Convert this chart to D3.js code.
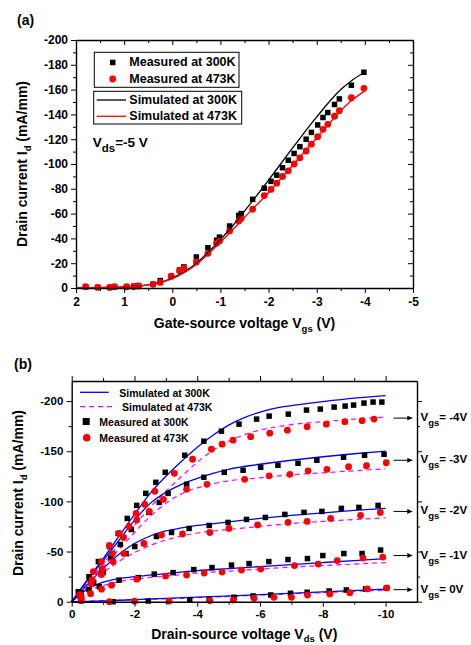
<!DOCTYPE html>
<html>
<head>
<meta charset="utf-8">
<title>Id-Vgs and Id-Vds</title>
<script src="https://d3js.org/d3.v7.min.js"></script>
<style>
body { margin: 0; background: #fff; }
svg text { font-family: Arial, "Liberation Sans", sans-serif; font-weight: bold; fill: #000; }
</style>
</head>
<body>
<script>
// ---------- panel (a): Id - Vgs at Vds = -5 V ----------
var vgsA = [1.8, 1.55, 1.3, 1.2, 0.95, 0.8, 0.7, 0.4, 0.25, 0.02, -0.15, -0.24, -0.5, -0.74, -0.92, -0.98,
  -1.19, -1.38, -1.43, -1.67, -1.91, -2.05, -2.17, -2.29, -2.41, -2.53, -2.65, -2.78, -2.89, -3.02,
  -3.13, -3.23, -3.37, -3.47, -3.72, -3.98];
var meas300A = [-1, -0.5, -0.5, -1, -1, -1.5, -2, -3, -6, -9.5, -14.5, -17, -25, -32.5, -38.5, -41,
  -50, -58.5, -60, -71.5, -80.5, -86, -91, -97, -103, -108.5, -114, -120, -125.5, -131.5,
  -137.5, -141.5, -148, -152.5, -163.5, -174];
var meas473A = [-1, -0.5, -0.5, -1, -1, -1, -1.5, -3, -4.5, -9.5, -14, -16, -21, -28, -36, -38,
  -46, -54, -56, -63.5, -74.5, -79.5, -84.5, -90, -94.5, -100, -105, -110.5, -116, -122,
  -128, -132, -138.5, -143, -153.5, -161];
var sim300A = [[2, 0], [1.5, -0.3], [1, -0.8], [0.5, -2.5], [0.25, -4.5], [0, -8], [-0.25, -13], [-0.5, -20],
  [-0.75, -29], [-1, -39], [-1.25, -50], [-1.5, -62], [-2, -87], [-2.5, -113], [-3, -138], [-3.5, -160],
  [-3.75, -168], [-4, -174]];
var sim473A = [[2, 0], [1, -0.8], [0.5, -2.5], [0, -7.5], [-0.5, -19], [-1, -37], [-1.5, -57], [-2, -77],
  [-2.5, -99], [-3, -121], [-3.5, -143], [-3.75, -152], [-4, -159]];
var xTicksA = [2, 1, 0, -1, -2, -3, -4, -5];
var yTicksA = [0, -20, -40, -60, -80, -100, -120, -140, -160, -180, -200];

// ---------- panel (b): Id - Vds for Vgs = -4 .. 0 V ----------
var vgsLabels = ["-4V", "-3V", "-2V", "-1V", "0V"];
var labelIdB = [-183, -141, -90, -46, -12];

var sim300_4 = [[0, 0], [-0.5, -22], [-1, -43], [-1.5, -65], [-2, -87], [-2.5, -108], [-3, -125], [-3.5, -140],
  [-4, -154], [-4.5, -166], [-5, -176], [-5.5, -183.5], [-6, -189], [-6.5, -193], [-7, -195.5], [-8, -199.5],
  [-9, -203], [-10, -205.5]];
var sim300_3 = [[0, 0], [-0.5, -21], [-1, -41], [-1.5, -61], [-2, -81], [-2.5, -98], [-3, -109], [-3.5, -117],
  [-4, -123], [-4.5, -128], [-5, -132], [-6, -137], [-7, -141], [-8, -144.5], [-9, -147.5], [-10, -150]];
var sim300_2 = [[0, 0], [-0.5, -17], [-1, -33], [-1.5, -47], [-2, -58], [-2.5, -65.5], [-3, -70.5], [-3.5, -73.5],
  [-4, -76], [-5, -79.5], [-6, -83], [-7, -86], [-8, -88.5], [-9, -91], [-10, -93]];
var sim300_1 = [[0, 0], [-0.25, -7], [-0.5, -12.5], [-0.75, -16.5], [-1, -19.5], [-1.5, -23], [-2, -25],
  [-3, -28], [-4, -31], [-5, -33], [-6, -35], [-7, -37], [-8, -39], [-9, -41], [-10, -43]];
var sim300_0 = [[0, 0], [-1, -0.8], [-2, -2], [-4, -4.5], [-6, -7], [-8, -9.7], [-10, -12.5]];

var sim473_4 = [[0, 0], [-0.5, -19], [-1, -38], [-1.5, -57], [-2, -76], [-2.5, -94], [-3, -110], [-3.5, -125],
  [-4, -139], [-4.5, -151], [-5, -160], [-5.5, -166.5], [-6, -171], [-7, -176.5], [-8, -179.5], [-9, -182],
  [-10, -184]];
var sim473_3 = [[0, 0], [-0.5, -18], [-1, -35], [-1.5, -52], [-2, -69], [-2.5, -85], [-3, -98], [-3.5, -107.5],
  [-4, -113.5], [-4.5, -117.5], [-5, -120.5], [-6, -123.5], [-7, -126.5], [-8, -128.5], [-9, -130.5], [-10, -132.5]];
var sim473_2 = [[0, 0], [-0.5, -15], [-1, -29], [-1.5, -40], [-2, -49], [-2.5, -56], [-3, -61.5], [-3.5, -65.5],
  [-4, -68.5], [-5, -72], [-6, -75], [-7, -78], [-8, -80], [-9, -82], [-10, -83.5]];
var sim473_1 = [[0, 0], [-0.25, -6], [-0.5, -10.5], [-1, -16], [-1.5, -20], [-2, -22.5], [-3, -25.5],
  [-4, -28.5], [-5, -30.5], [-6, -32.5], [-7, -34.5], [-8, -36], [-9, -37.5], [-10, -39]];
var sim473_0 = [[0, 0], [-2, -2], [-4, -4], [-6, -6.5], [-8, -9], [-10, -11.5]];

var meas300_4 = [[-0.21, -10], [-0.55, -25], [-0.85, -40], [-1.2, -55], [-1.48, -68], [-1.77, -83], [-2.07, -96],
  [-2.36, -108], [-2.68, -119], [-2.98, -129], [-3.6, -146], [-4.21, -160], [-4.77, -170], [-5.33, -177],
  [-5.89, -182], [-6.29, -185], [-6.9, -187], [-7.48, -191], [-7.92, -192], [-8.36, -194], [-8.71, -195],
  [-8.98, -196], [-9.31, -198], [-9.6, -199], [-9.88, -199]];
var meas300_3 = [[-0.3, -9], [-0.6, -21], [-0.95, -32], [-1.25, -44], [-1.55, -57], [-1.9, -72], [-2.46, -89],
  [-2.79, -99], [-3.07, -108], [-3.66, -117], [-4.21, -124], [-4.86, -129], [-5.46, -131], [-6.02, -134],
  [-6.57, -136], [-7.21, -138], [-7.81, -141], [-8.66, -144], [-9.33, -146], [-9.95, -147]];
var meas300_2 = [[-0.3, -7], [-0.7, -19], [-1.0, -29], [-1.73, -48], [-2.01, -55], [-2.7, -65], [-3.18, -69],
  [-3.74, -73], [-4.38, -76], [-4.98, -79], [-5.57, -82], [-6.17, -84], [-6.79, -87], [-7.4, -89], [-7.97, -90],
  [-8.59, -93], [-9.15, -94], [-9.76, -96]];
var meas300_1 = [[-0.25, -6], [-0.55, -12], [-0.88, -15], [-1.51, -21.5], [-2.12, -24], [-2.63, -27.5],
  [-3.23, -29], [-3.89, -32], [-4.47, -34], [-5.09, -36.5], [-5.65, -38], [-6.28, -40], [-6.89, -42],
  [-7.51, -43], [-8.0, -46], [-8.67, -48], [-9.25, -48], [-9.84, -51.5]];
var meas300_0 = [[-0.3, -1], [-1.32, 0], [-2.44, -0.7], [-3.76, -2], [-4.38, -2.4], [-5.17, -4.4], [-5.78, -5.7],
  [-6.34, -6.7], [-6.97, -8.4], [-7.5, -9.4], [-8.2, -10.7], [-8.75, -11.7], [-9.36, -12.7], [-10.02, -13.4]];

var meas473_4 = [[-0.26, -7], [-0.69, -30], [-0.95, -40], [-1.2, -56], [-1.51, -68], [-1.83, -75], [-2.05, -88],
  [-2.33, -97], [-2.65, -110], [-3.27, -128], [-3.85, -142], [-4.45, -152], [-4.79, -157], [-5.14, -161],
  [-5.7, -164.5], [-6.31, -168], [-6.87, -171], [-7.5, -174.5], [-8.11, -177], [-8.7, -179.5], [-9.25, -180.5],
  [-9.63, -182]];
var meas473_3 = [[-0.3, -6], [-0.65, -22], [-0.98, -33], [-1.3, -48], [-1.65, -64], [-2.07, -81.5], [-2.47, -90],
  [-2.92, -102], [-3.66, -112], [-4.31, -117], [-5.51, -122], [-6.29, -125.5], [-6.95, -127], [-7.53, -130.5],
  [-8.13, -132], [-8.82, -134.5], [-9.39, -135.5], [-10.02, -138.5]];
var meas473_2 = [[-0.3, -3], [-0.62, -18], [-0.95, -27], [-1.32, -40], [-1.66, -48], [-2.3, -58], [-2.86, -66.5],
  [-3.53, -67.5], [-4.4, -69], [-5.01, -73], [-5.92, -76.5], [-6.89, -79], [-7.5, -80], [-8.25, -83],
  [-9.2, -86], [-9.83, -89]];
var meas473_1 = [[-0.3, -3], [-0.6, -8], [-0.95, -12.5], [-1.27, -16.5], [-2.07, -22.5], [-2.99, -25.5],
  [-3.66, -26.5], [-4.22, -28.5], [-4.79, -29.5], [-5.41, -31.5], [-6.02, -32.5], [-7.1, -36], [-7.85, -37.5],
  [-8.46, -41], [-9.28, -43.5], [-9.91, -44.5]];
var meas473_0 = [[-0.3, -1], [-1.2, 0], [-2.0, -0.5], [-3.1, -0.5], [-4.4, -1], [-5.15, -1.7], [-5.81, -3.4],
  [-6.44, -4.4], [-7.0, -4.4], [-7.51, -6.7], [-8.22, -7.7], [-8.86, -9], [-9.42, -12.7], [-10.04, -13.7]];

var xTicksB = [0, -2, -4, -6, -8, -10];
var yTicksB = [0, -50, -100, -150, -200];

var sim300B = [sim300_4, sim300_3, sim300_2, sim300_1, sim300_0];
var sim473B = [sim473_4, sim473_3, sim473_2, sim473_1, sim473_0];
var meas300B = [meas300_4, meas300_3, meas300_2, meas300_1, meas300_0];
var meas473B = [meas473_4, meas473_3, meas473_2, meas473_1, meas473_0];

var svg = d3.select("body").append("svg")
  .attr("width", 471).attr("height", 645);

// draws the 4 sides of a frame, majors + minors; dirs: +1 out, -1 in
function drawAxes(g, x, y, o) {
  var xr = x.range(), yr = y.range();
  var sides = [
    [d3.axisBottom, x, "translate(0," + yr[0] + ")", o.xTicks, o.xMinor, o.dirs[0], true, o.xPad],
    [d3.axisTop, x, "translate(0," + yr[1] + ")", o.xTicks, o.xMinor, o.dirs[1], false, 3],
    [d3.axisLeft, y, "translate(" + xr[0] + ",0)", o.yTicks, o.yMinor, o.dirs[2], true, o.yPad],
    [d3.axisRight, y, "translate(" + xr[1] + ",0)", o.yTicks, o.yMinor, o.dirs[3], false, 3]
  ];
  sides.forEach(function(s) {
    var a = g.append("g").attr("transform", s[2])
      .call(s[0](s[1]).tickValues(s[3]).tickSizeOuter(0).tickSizeInner(5 * s[5])
        .tickPadding(s[7]).tickFormat(s[6] ? function(d) { return String(d); } : ""));
    a.select(".domain").attr("stroke-width", 1.4);
    a.selectAll(".tick line").attr("stroke-width", 1);
    a.selectAll(".tick text").style("font-size", o.fs + "px");
    g.append("g").attr("transform", s[2])
      .call(s[0](s[1]).tickValues(s[4]).tickSizeOuter(0).tickSizeInner(3 * s[5]).tickFormat(""))
      .select(".domain").remove();
  });
}

function squares(g, pts, x, y, size) {
  g.selectAll(null).data(pts).enter().append("rect")
    .attr("x", function(d) { return x(d[0]) - size / 2; })
    .attr("y", function(d) { return y(d[1]) - size / 2; })
    .attr("width", size).attr("height", size)
    .attr("fill", "#000");
}
function circles(g, pts, x, y, r) {
  g.selectAll(null).data(pts).enter().append("circle")
    .attr("cx", function(d) { return x(d[0]); })
    .attr("cy", function(d) { return y(d[1]); })
    .attr("r", r)
    .attr("fill", "#ff0000");
}

// ================= panel (a) =================
var xA = d3.scaleLinear().domain([2, -5]).range([76, 413]);
var yA = d3.scaleLinear().domain([0, -200]).range([288, 40]);
var ga = svg.append("g");

var ptsA300 = vgsA.map(function(v, i) { return [v, meas300A[i]]; });
var ptsA473 = vgsA.map(function(v, i) { return [v, meas473A[i]]; });
squares(ga, ptsA300, xA, yA, 5.5);
circles(ga, ptsA473, xA, yA, 3.4);

var lineA = d3.line().x(function(d) { return xA(d[0]); }).y(function(d) { return yA(d[1]); })
  .curve(d3.curveMonotoneX);
ga.append("path").attr("d", lineA(sim300A)).attr("fill", "none").attr("stroke", "#000").attr("stroke-width", 1.3);
ga.append("path").attr("d", lineA(sim473A)).attr("fill", "none").attr("stroke", "#ff0000").attr("stroke-width", 1.3);

drawAxes(ga, xA, yA, {
  xTicks: xTicksA, xMinor: d3.range(1.5, -5, -1), yTicks: yTicksA, yMinor: d3.range(-10, -200, -20),
  dirs: [1, -1, 1, -1], xPad: 4, yPad: 3, fs: 12
});

// legend (a)
ga.append("rect").attr("x", 94.3).attr("y", 52.3).attr("width", 144.7).attr("height", 35)
  .attr("fill", "none").attr("stroke", "#000").attr("stroke-width", 1);
ga.append("rect").attr("x", 93.7).attr("y", 91.3).attr("width", 148).attr("height", 32.7)
  .attr("fill", "none").attr("stroke", "#000").attr("stroke-width", 1);
ga.append("rect").attr("x", 110).attr("y", 59.7).attr("width", 5.5).attr("height", 5.5).attr("fill", "#000");
ga.append("circle").attr("cx", 112.7).attr("cy", 79).attr("r", 3.4).attr("fill", "#ff0000");
ga.append("line").attr("x1", 96.7).attr("x2", 126).attr("y1", 100).attr("y2", 100).attr("stroke", "#000").attr("stroke-width", 1.3);
ga.append("line").attr("x1", 96.7).attr("x2", 126).attr("y1", 116.3).attr("y2", 116.3).attr("stroke", "#ff0000").attr("stroke-width", 1.3);
[["Measured at 300K", 66.3], ["Measured at 473K", 82.7], ["Simulated at 300K", 104], ["Simulated at 473K", 120.3]]
  .forEach(function(t) {
    ga.append("text").attr("x", 129.3).attr("y", t[1]).style("font-size", "12.5px").text(t[0]);
  });

var vds = ga.append("text").attr("x", 92.7).attr("y", 146.7).style("font-size", "13.5px");
vds.append("tspan").text("V");
vds.append("tspan").attr("dy", 5).style("font-size", "11.5px").text("ds");
vds.append("tspan").attr("dy", -5).text("=-5 V");

ga.append("text").attr("x", 17).attr("y", 25).style("font-size", "14px").text("(a)");

var xtA = ga.append("text").attr("x", 244.5).attr("y", 328).attr("text-anchor", "middle").style("font-size", "14px");
xtA.append("tspan").text("Gate-source voltage V");
xtA.append("tspan").attr("dy", 4).style("font-size", "9.5px").text("gs");
xtA.append("tspan").attr("dy", -4).text(" (V)");

var ytA = ga.append("text").attr("transform", "translate(27,164) rotate(-90)")
  .attr("text-anchor", "middle").style("font-size", "14px");
ytA.append("tspan").text("Drain current I");
ytA.append("tspan").attr("dy", 4).style("font-size", "9.5px").text("d");
ytA.append("tspan").attr("dy", -4).text(" (mA/mm)");

// ================= panel (b) =================
var xB = d3.scaleLinear().domain([0, -11]).range([71.7, 417]);
var yB = d3.scaleLinear().domain([0, -220]).range([601.7, 381]);
var gb = svg.append("g");

var lineB = d3.line().x(function(d) { return xB(d[0]); }).y(function(d) { return yB(d[1]); })
  .curve(d3.curveMonotoneX);
sim473B.forEach(function(s) {
  gb.append("path").attr("d", lineB(s)).attr("fill", "none").attr("stroke", "#ff00ff")
    .attr("stroke-width", 1.2).attr("stroke-dasharray", "5,4");
});
sim300B.forEach(function(s) {
  gb.append("path").attr("d", lineB(s)).attr("fill", "none").attr("stroke", "#0000ff").attr("stroke-width", 1.3);
});
meas300B.forEach(function(s) { squares(gb, s, xB, yB, 5.5); });
meas473B.forEach(function(s) { circles(gb, s, xB, yB, 3.4); });

drawAxes(gb, xB, yB, {
  xTicks: xTicksB, xMinor: d3.range(-1, -11, -2), yTicks: yTicksB, yMinor: d3.range(-25, -220, -50),
  dirs: [1, 1, 1, 1], xPad: 3, yPad: 3.4, fs: 11.5
});

// legend (b)
gb.append("line").attr("x1", 80).attr("x2", 108.7).attr("y1", 392.3).attr("y2", 392.3)
  .attr("stroke", "#0000ff").attr("stroke-width", 1.3);
gb.append("line").attr("x1", 80).attr("x2", 112).attr("y1", 406.7).attr("y2", 406.7)
  .attr("stroke", "#ff00ff").attr("stroke-width", 1.2).attr("stroke-dasharray", "5,4");
gb.append("rect").attr("x", 82.7).attr("y", 418).attr("width", 7).attr("height", 7).attr("fill", "#000");
gb.append("circle").attr("cx", 86.7).attr("cy", 437.7).attr("r", 3.8).attr("fill", "#ff0000");
[["Simulated at 300K", 119.3, 396.5], ["Simulated at 473K", 122, 410.8], ["Measured at 300K", 99.3, 425.7],
  ["Measured at 473K", 99.3, 441.7]].forEach(function(t) {
  gb.append("text").attr("x", t[1]).attr("y", t[2]).style("font-size", "10.5px").text(t[0]);
});

// Vgs annotations with arrows
var defs = svg.append("defs");
defs.append("marker").attr("id", "arr").attr("viewBox", "0 0 10 10").attr("refX", 10).attr("refY", 5)
  .attr("markerWidth", 6).attr("markerHeight", 5).attr("markerUnits", "userSpaceOnUse").attr("orient", "auto")
  .append("path").attr("d", "M0,0L10,5L0,10Z").attr("fill", "#000");

vgsLabels.forEach(function(lab, i) {
  var yy = yB(labelIdB[i]);
  gb.append("line").attr("x1", xB(-10.25)).attr("x2", xB(-10.85)).attr("y1", yy).attr("y2", yy)
    .attr("stroke", "#000").attr("stroke-width", 1).attr("marker-end", "url(#arr)");
  var t = gb.append("text").attr("x", 420.5).attr("y", yy + 3).style("font-size", "11.5px");
  t.append("tspan").text("V");
  t.append("tspan").attr("dy", 5).style("font-size", "9.5px").text("gs");
  t.append("tspan").attr("dy", -5).text("= " + lab);
});

gb.append("text").attr("x", 14).attr("y", 368.7).style("font-size", "14px").text("(b)");

var xtB = gb.append("text").attr("x", 244.3).attr("y", 638.5).attr("text-anchor", "middle").style("font-size", "14px");
xtB.append("tspan").text("Drain-source voltage V");
xtB.append("tspan").attr("dy", 3).style("font-size", "9.5px").text("ds");
xtB.append("tspan").attr("dy", -3).text(" (V)");

var ytB = gb.append("text").attr("transform", "translate(23,493) rotate(-90)")
  .attr("text-anchor", "middle").style("font-size", "14px");
ytB.append("tspan").text("Drain current I");
ytB.append("tspan").attr("dy", 4).style("font-size", "9.5px").text("d");
ytB.append("tspan").attr("dy", -4).text(" (mA/mm)");
</script>
</body>
</html>
